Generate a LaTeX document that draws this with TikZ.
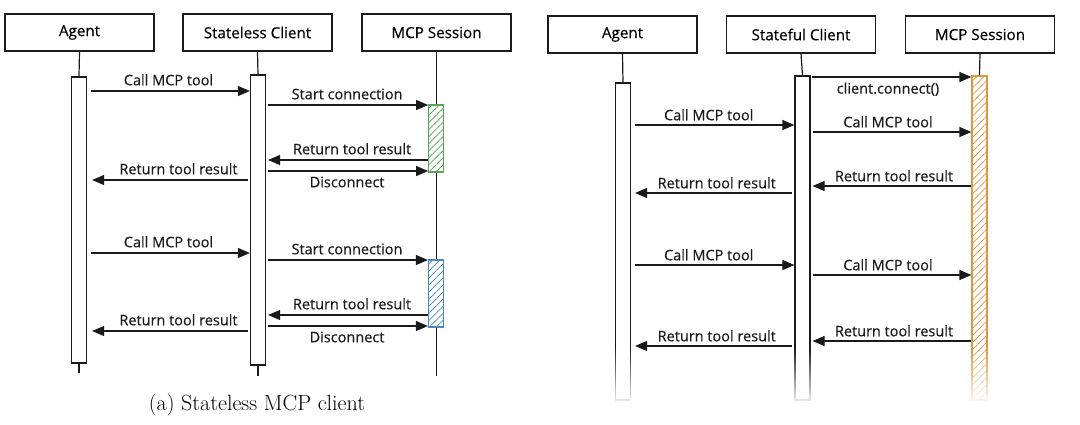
\documentclass[tikz,border=0pt]{standalone}
\usepackage{fontspec}
\newfontfamily\diagfont{Open Sans}[FakeBold=0.4]
\usetikzlibrary{arrows.meta,patterns.meta,fadings}
\definecolor{hatchgreen}{RGB}{84,166,84}
\definecolor{hatchblue}{RGB}{74,134,200}
\definecolor{hatchorange}{RGB}{224,150,62}
\definecolor{ink}{RGB}{26,26,26}

\begin{document}
\begin{tikzpicture}[x=1pt,y=-1pt,
        head/.style={draw=ink, line width=1.2pt, minimum width=149pt, minimum height=37pt,
            inner sep=0pt, font=\diagfont\fontsize{15.2}{17}\selectfont},
        actbar/.style={draw=ink, line width=1.2pt, fill=white, minimum width=15pt, inner sep=0pt},
        hatch/.style={draw=#1, line width=1.2pt, minimum width=15pt, inner sep=0pt,
            preaction={fill=white}, pattern={Lines[angle=45,distance=5pt,line width=0.7pt]},
            pattern color=#1},
        msg/.style={draw=ink, line width=1.2pt, -{Triangle[length=12pt,width=10pt]}},
        life/.style={draw=ink, line width=1.2pt},
        lbl/.style={inner sep=2pt, text=ink, font=\diagfont\fontsize{14.5}{17}\selectfont}]
        \useasboundingbox (0,0) rectangle (1080,424);

        \node[head] (agL) at (79.5,32.5) {Agent};
        \node[head] (clL) at (257.5,32.5) {Stateless Client};
        \node[head] (seL) at (436.5,32.5) {MCP Session};
        \draw[life] (seL.south) -- ++(0,324);
        \node[actbar, minimum height=286pt] (abL) at (79,220) {};
        \node[actbar, minimum height=290pt] (cbL) at (258,220) {};
        \draw[life] (agL.south) -- (abL.north);
        \draw[life] (abL.south) -- ++(0,9);
        \draw[life] (clL.south) -- (cbL.north);
        \draw[life] (cbL.south) -- ++(0,10);
        \node[hatch=hatchgreen, minimum height=67pt] (gbL) at (436,138.5) {};
        \node[hatch=hatchblue, minimum height=67pt] (bbL) at (436,293.5) {};

        \draw[msg, shorten <=4pt] (abL.east |- 0,91) -- (cbL.west |- 0,91)
            node[lbl, midway, above=3pt] {Call MCP tool};
        \draw[msg, shorten <=2pt] (cbL.east |- 0,105) -- (gbL.west |- 0,105)
            node[lbl, midway, above=3pt] {Start connection};
        \draw[msg, shorten >=2pt] (gbL.west |- 0,160) -- (cbL.east |- 0,160)
            node[lbl, midway, above=3pt, xshift=5pt] {Return tool result};
        \draw[msg, shorten <=2pt] (cbL.east |- 0,171) -- (gbL.west |- 0,171)
            node[lbl, midway, below=3pt] {Disconnect};
        \draw[msg, shorten <=2pt, shorten >=5pt] (cbL.west |- 0,180) -- (abL.east |- 0,180)
            node[lbl, midway, above=3pt, xshift=10pt] {Return tool result};

        \draw[msg, shorten <=4pt] (abL.east |- 0,253) -- (cbL.west |- 0,253)
            node[lbl, midway, above=3pt] {Call MCP tool};
        \draw[msg, shorten <=2pt] (cbL.east |- 0,260) -- (bbL.west |- 0,260)
            node[lbl, midway, above=3pt] {Start connection};
        \draw[msg, shorten >=2pt] (bbL.west |- 0,315) -- (cbL.east |- 0,315)
            node[lbl, midway, above=3pt, xshift=5pt] {Return tool result};
        \draw[msg, shorten <=2pt] (cbL.east |- 0,326) -- (bbL.west |- 0,326)
            node[lbl, midway, below=3pt] {Disconnect};
        \draw[msg, shorten <=2pt, shorten >=5pt] (cbL.west |- 0,331) -- (abL.east |- 0,331)
            node[lbl, midway, above=3pt, xshift=10pt] {Return tool result};

        \node[font=\fontsize{22}{26}\selectfont] (capL) at (257,405) {(a) Stateless MCP client};

        \node[head] (agR) at (622.5,34.5) {Agent};
        \node[head] (clR) at (801,34.5) {Stateful Client};
        \node[head] (seR) at (980,34.5) {MCP Session};
        \node[actbar, minimum height=317pt] (abR) at (623,241.5) {};
        \node[actbar, minimum height=324pt] (cbR) at (802.5,238) {};
        \node[hatch=hatchorange, minimum height=324pt] (obR) at (979.5,238) {};
        \draw[life] (agR.south) -- (abR.north);
        \draw[life] (clR.south) -- (cbR.north);
        \draw[life] (seR.south) -- (obR.north);

        \draw[msg, shorten <=1pt] (cbR.east |- 0,77) -- (obR.west |- 0,77)
            node[lbl, midway, below=3pt, xshift=-3pt] {client.connect()};
        \draw[msg, shorten <=4pt] (abR.east |- 0,125) -- (cbR.west |- 0,125)
            node[lbl, midway, above=2pt, xshift=-4pt] {Call MCP tool};
        \draw[msg, shorten <=2pt] (cbR.east |- 0,132) -- (obR.west |- 0,132)
            node[lbl, midway, above=2pt, xshift=-3pt] {Call MCP tool};
        \draw[msg, shorten >=2pt] (obR.west |- 0,186) -- (cbR.east |- 0,186)
            node[lbl, midway, above=2pt, xshift=3pt] {Return tool result};
        \draw[msg, shorten <=2pt, shorten >=4pt] (cbR.west |- 0,193) -- (abR.east |- 0,193)
            node[lbl, midway, above=2pt, xshift=4pt] {Return tool result};

        \draw[msg, shorten <=4pt] (abR.east |- 0,265) -- (cbR.west |- 0,265)
            node[lbl, midway, above=2pt, xshift=-4pt] {Call MCP tool};
        \draw[msg, shorten <=2pt] (cbR.east |- 0,275) -- (obR.west |- 0,275)
            node[lbl, midway, above=2pt, xshift=-3pt] {Call MCP tool};
        \draw[msg, shorten >=2pt] (obR.west |- 0,341) -- (cbR.east |- 0,341)
            node[lbl, midway, above=2pt, xshift=3pt] {Return tool result};
        \draw[msg, shorten <=2pt, shorten >=4pt] (cbR.west |- 0,346) -- (abR.east |- 0,346)
            node[lbl, midway, above=2pt, xshift=4pt] {Return tool result};

        \fill[white, path fading=north] (600,348) rectangle (1010,406);
        \fill[white] (600,404) rectangle (1010,424);
    \end{tikzpicture}
\end{document}
